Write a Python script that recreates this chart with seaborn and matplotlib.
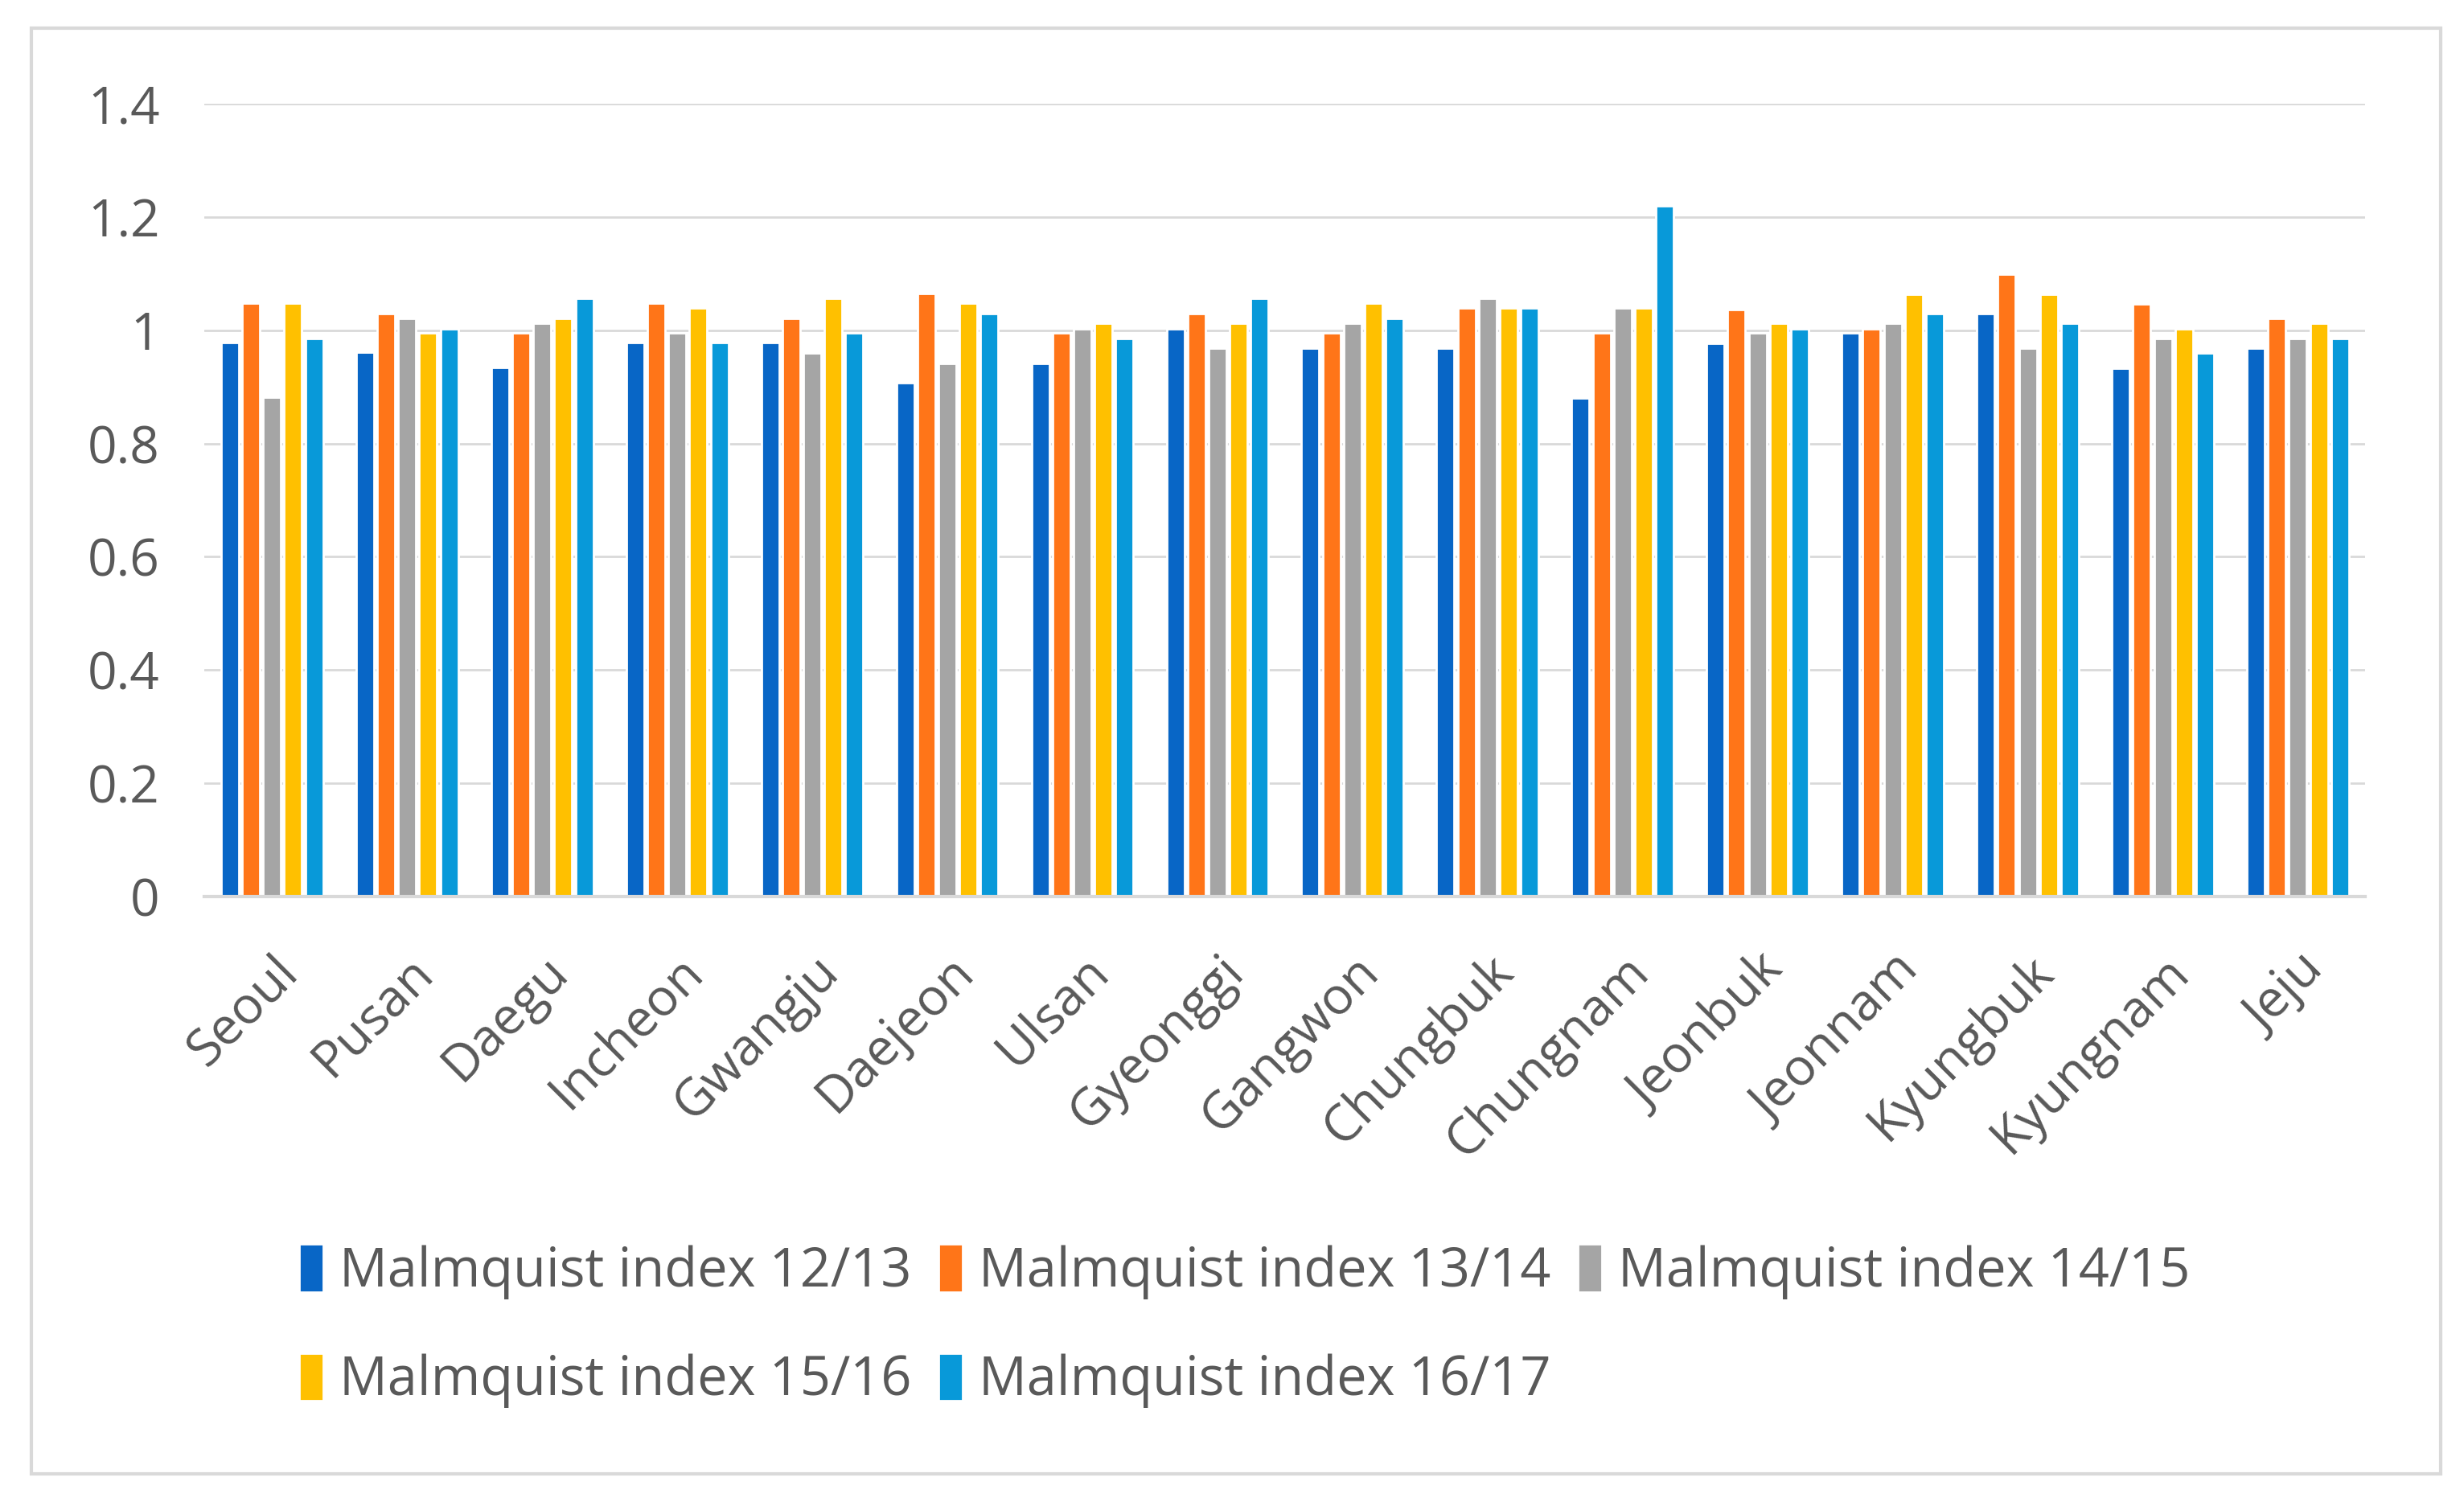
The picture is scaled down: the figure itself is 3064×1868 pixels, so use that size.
import matplotlib
matplotlib.use("Agg")
import matplotlib.pyplot as plt
import numpy as np
import pandas as pd
import seaborn as sns
from matplotlib.patches import Rectangle, Patch

# regions and Malmquist index values
regions = ['Seoul', 'Pusan', 'Daegu', 'Incheon', 'Gwangju', 'Daejeon', 'Ulsan', 'Gyeonggi',
           'Gangwon', 'Chungbuk', 'Chungnam', 'Jeonbuk', 'Jeonnam', 'Kyungbuk', 'Kyungnam', 'Jeju']
m1213 = [0.978, 0.961, 0.934, 0.978, 0.978, 0.908, 0.942, 1.002, 0.969, 0.969, 0.881, 0.977, 0.995, 1.029, 0.933, 0.968]
m1314 = [1.048, 1.030, 0.995, 1.048, 1.021, 1.065, 0.995, 1.030, 0.995, 1.039, 0.995, 1.037, 1.003, 1.099, 1.047, 1.021]
m1415 = [0.882, 1.021, 1.012, 0.996, 0.960, 0.942, 1.002, 0.969, 1.012, 1.056, 1.039, 0.995, 1.012, 0.968, 0.985, 0.985]
m1516 = [1.048, 0.995, 1.021, 1.039, 1.056, 1.048, 1.012, 1.012, 1.048, 1.039, 1.039, 1.013, 1.064, 1.064, 1.003, 1.012]
m1617 = [0.986, 1.003, 1.056, 0.978, 0.995, 1.030, 0.986, 1.056, 1.021, 1.039, 1.220, 1.002, 1.029, 1.012, 0.960, 0.985]
series_names = ['Malmquist index 12/13', 'Malmquist index 13/14', 'Malmquist index 14/15',
                'Malmquist index 15/16', 'Malmquist index 16/17']
colors = ['#0866C6', '#FF7518', '#A5A5A5', '#FFC000', '#0899D9']
yticks = [0, 0.2, 0.4, 0.6, 0.8, 1, 1.2, 1.4]

df = pd.DataFrame({'region': regions * 5,
                   'series': np.repeat(series_names, len(regions)),
                   'value': m1213 + m1314 + m1415 + m1516 + m1617})

sns.set_style("white")
plt.rcParams['font.family'] = ['Open Sans', 'DejaVu Sans']

fig = plt.figure(figsize=(15.32, 9.34), dpi=200)
ax = fig.add_axes([0.083, 0.403, 0.877, 0.528])

sns.barplot(data=df, x='region', y='value', hue='series', palette=colors,
            width=0.78, saturation=1, legend=False, ax=ax, errorbar=None)

# narrow each bar to leave the small white gaps
for p in ax.patches:
    w = p.get_width()
    p.set_x(p.get_x() + w * 0.08)
    p.set_width(w * 0.84)

ax.set_ylim(0, 1.4)
ax.set_xlim(-0.5, len(regions) - 0.5)
ax.set_yticks(yticks)
ax.set_yticklabels(['0', '0.2', '0.4', '0.6', '0.8', '1', '1.2', '1.4'])
ax.grid(axis='y', color='#D9D9D9', linewidth=1.0)
ax.set_axisbelow(True)
for s in ['top', 'right', 'left']:
    ax.spines[s].set_visible(False)
ax.spines['bottom'].set_color('#D9D9D9')
ax.spines['bottom'].set_linewidth(1.5)
ax.tick_params(axis='both', length=0, colors='#595959')
ax.tick_params(axis='y', labelsize=23, pad=20)
ax.tick_params(axis='x', labelsize=23, pad=22)
plt.setp(ax.get_xticklabels(), rotation=45, ha='right', rotation_mode='anchor')
ax.set_xlabel('')
ax.set_ylabel('')

handles = [Patch(facecolor=c) for c in colors]
order = [0, 3, 1, 4, 2]
fig.legend([handles[i] for i in order], [series_names[i] for i in order],
           ncol=3, loc='center', bbox_to_anchor=(0.505, 0.117), frameon=False,
           fontsize=24, handlelength=0.45, handleheight=1.0, handletextpad=0.3,
           columnspacing=0.5, labelspacing=1.0, labelcolor='#595959')

fig.patches.append(Rectangle((0.0127, 0.0187), 0.9778, 0.9623, transform=fig.transFigure,
                             fill=False, edgecolor='#D9D9D9', linewidth=1.5))

fig.savefig('out.png', dpi=200)
